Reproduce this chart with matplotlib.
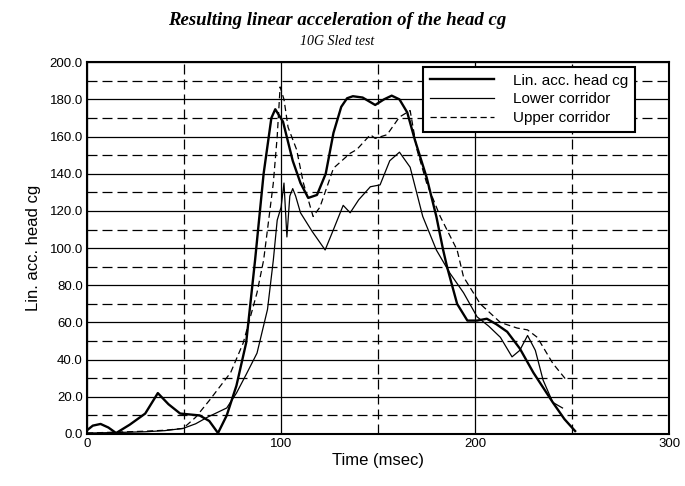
import numpy as np
import matplotlib.pyplot as plt
from matplotlib.ticker import MultipleLocator, FormatStrFormatter

# Lin. acc. head cg (thick solid)
head_t = [0, 3, 7, 11, 15, 22, 30, 36.5, 42, 48, 58, 63, 67.5, 72, 77, 82, 86.6, 91, 95, 97,
          101, 106, 110, 114, 118.5, 123, 127, 131, 134, 137, 142, 148.5, 153, 157, 161, 165,
          169, 175, 180, 183.5, 185.5, 190.7, 196, 201, 206, 211, 216.5, 223, 230, 235, 240,
          246, 251.5]
head_a = [2, 4.5, 5.4, 3.5, 0.5, 5, 11, 22, 16, 11, 10, 7, 0.5, 10, 26, 49, 93.5, 140, 170, 174.7,
          168, 147, 135, 127, 128.6, 140, 162, 176, 180.6, 181.7, 181, 177, 180, 182, 180, 173,
          158, 138, 117, 99, 90, 70, 61, 61, 62, 59, 55, 46, 33, 25, 17, 8, 1.6]

# Lower corridor (thin solid)
low_t = [0, 15, 30, 40, 49.5, 56, 62, 72, 77, 82, 87.6, 93, 96, 98, 100, 101.5, 103, 104.5,
         106, 107.5, 110, 116, 122.7, 127, 132, 135.6, 140, 146, 151, 156, 161, 166.5, 173,
         180, 187, 194, 201, 207, 213, 219, 223, 227, 231, 235, 240, 245]
low_a = [0.5, 0.8, 1.2, 1.8, 3, 5.5, 9, 14, 22, 32, 43.5, 67, 93.5, 115, 122, 135, 106, 128,
         132, 128, 119, 109, 99, 110, 123, 119, 126, 133, 134, 147, 151.6, 143.5, 117,
         99, 86.5, 76, 63, 58, 52, 41.5, 45, 53, 45, 29, 17, 14]

# Upper corridor (dashed)
up_t = [0, 15, 30, 40, 49.5, 56, 63, 74, 80.5, 87.6, 91, 93, 96, 98, 99.5, 101.5, 103.6, 108,
        111.5, 116.5, 120, 127, 135.6, 139, 146, 148.5, 154.6, 161, 166.5, 170, 175, 182,
        190.7, 194, 202.6, 213, 221.6, 227, 232, 236, 240, 247]
up_a = [0.5, 1, 1.5, 2, 3, 9, 18, 33, 49, 76, 93.5, 110, 135, 160, 186.7, 180, 165, 153,
        135, 117, 122, 143, 151, 153, 161, 159, 161, 170.5, 174, 153, 135, 117,
        99, 84.5, 70, 60, 57, 56, 52, 45, 38, 29]

fig = plt.figure(figsize=(6.85, 4.86), dpi=100)
ax = fig.add_axes([0.127, 0.107, 0.85, 0.765])

ax.plot(head_t, head_a, color='black', lw=1.7, label='Lin. acc. head cg', zorder=4)
ax.plot(low_t, low_a, color='black', lw=0.9, label='Lower corridor', zorder=3)
ax.plot(up_t, up_a, color='black', lw=0.9, ls=(0, (5, 3)), label='Upper corridor', zorder=3)

ax.set_xlim(0, 300)
ax.set_ylim(0, 200)
ax.xaxis.set_major_locator(MultipleLocator(100))
ax.xaxis.set_minor_locator(MultipleLocator(50))
ax.yaxis.set_major_locator(MultipleLocator(20))
ax.yaxis.set_minor_locator(MultipleLocator(10))
ax.yaxis.set_major_formatter(FormatStrFormatter('%.1f'))
ax.grid(which='major', color='black', lw=0.9, ls='-')
ax.grid(which='minor', color='black', lw=0.9, ls=(0, (8, 4)))
ax.tick_params(which='both', length=0, labelsize=9.5, pad=3)
for lab in ax.get_xticklabels() + ax.get_yticklabels():
    lab.set_fontfamily('Liberation Sans')
for s in ax.spines.values():
    s.set_linewidth(1.5)

ax.set_xlabel('Time (msec)', fontsize=12, family='Liberation Sans', labelpad=2)
ax.set_ylabel('Lin. acc. head cg', fontsize=12, family='Liberation Sans', labelpad=6)

leg = ax.legend(loc='upper right', bbox_to_anchor=(0.954, 1.008), fancybox=False,
                framealpha=1, edgecolor='black', handlelength=4.2, handletextpad=1.2,
                borderpad=0.45, labelspacing=0.3,
                prop={'family': 'Liberation Sans', 'size': 11})
leg.get_frame().set_linewidth(1.5)
leg.set_zorder(5)

fig.text(0.492, 0.958, 'Resulting linear acceleration of the head cg', ha='center', va='center',
         family='Liberation Serif', style='italic', weight='bold', fontsize=13.5)
fig.text(0.492, 0.915, '10G Sled test', ha='center', va='center',
         family='Liberation Serif', style='italic', fontsize=10)

fig.savefig('out.png', dpi=100)
